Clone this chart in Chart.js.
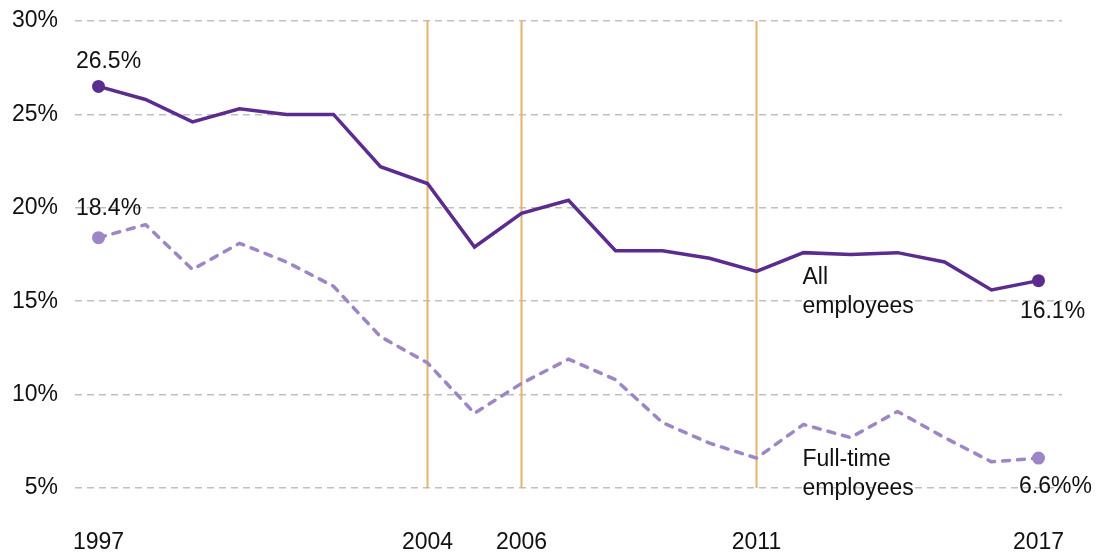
<!DOCTYPE html>
<html>
<head>
<meta charset="utf-8">
<script src="https://cdn.jsdelivr.net/npm/chart.js@4"></script>
<style>
  html, body { margin: 0; padding: 0; background: #ffffff; }
  #wrap { width: 1099px; height: 554px; }
</style>
</head>
<body>
<div id="wrap"><canvas id="c" width="1099" height="554"></canvas></div>
<script>
const years = [1997,1998,1999,2000,2001,2002,2003,2004,2005,2006,2007,2008,2009,2010,2011,2012,2013,2014,2015,2016,2017];
const allEmployees = [26.5,25.8,24.6,25.3,25.0,25.0,22.2,21.3,17.9,19.7,20.4,17.7,17.7,17.3,16.6,17.6,17.5,17.6,17.1,15.6,16.1];
const fullTimeEmployees = [18.4,19.1,16.7,18.1,17.1,15.8,13.1,11.7,9.0,10.6,11.9,10.8,8.5,7.4,6.6,8.4,7.7,9.1,7.7,6.4,6.6];
const xTickYears = [1997,2004,2006,2011,2017];
const yTickValues = [5,10,15,20,25,30];
const markerYears = [2004,2006,2011];
const endLabels = {
  allStart: "26.5%", allEnd: "16.1%",
  ftStart: "18.4%", ftEnd: "6.6%%"
};
const seriesNames = { all: ["All", "employees"], ft: ["Full-time", "employees"] };

const FONT = '"Liberation Sans", Arial, Helvetica, sans-serif';
const DARK = '#5b2c8e';
const LIGHT = '#9d86c6';
const ORANGE = '#e6b36c';

function toPoints(vals) { return years.map((y, i) => ({ x: y, y: vals[i] })); }
const lastIdx = years.length - 1;
const endRadius = (ctx) => (ctx.dataIndex === 0 || ctx.dataIndex === lastIdx) ? 6.5 : 0;

const datasets = [
  {
    label: 'All employees', data: toPoints(allEmployees),
    borderColor: DARK, backgroundColor: DARK, borderWidth: 3.5,
    pointRadius: endRadius, pointBackgroundColor: DARK, pointBorderWidth: 0,
    tension: 0
  },
  {
    label: 'Full-time employees', data: toPoints(fullTimeEmployees),
    borderColor: LIGHT, backgroundColor: LIGHT, borderWidth: 3.5, borderDash: [7, 8],
    borderCapStyle: 'round', borderJoinStyle: 'round',
    pointRadius: endRadius, pointBackgroundColor: LIGHT, pointBorderWidth: 0,
    tension: 0
  }
];
markerYears.forEach(yr => {
  datasets.push({
    label: 'm' + yr,
    data: [{ x: yr, y: yTickValues[0] }, { x: yr, y: yTickValues[yTickValues.length - 1] }],
    borderColor: ORANGE, borderWidth: 2, pointRadius: 0
  });
});

const annotationPlugin = {
  id: 'annot',
  afterDatasetsDraw(chart) {
    const { ctx, scales: { x, y } } = chart;
    ctx.save();
    ctx.font = '23px ' + FONT;
    ctx.fillStyle = '#111111';
    ctx.textBaseline = 'middle';
    ctx.textAlign = 'center';
    const x0 = x.getPixelForValue(years[0]);
    const x1 = x.getPixelForValue(years[lastIdx]);
    ctx.fillText(endLabels.allStart, x0 + 10, y.getPixelForValue(allEmployees[0]) - 25);
    ctx.fillText(endLabels.ftStart, x0 + 10, y.getPixelForValue(fullTimeEmployees[0]) - 29);
    ctx.fillText(endLabels.allEnd, x1 + 14, y.getPixelForValue(allEmployees[lastIdx]) + 31);
    ctx.fillText(endLabels.ftEnd, x1 + 17, y.getPixelForValue(fullTimeEmployees[lastIdx]) + 29);
    ctx.textAlign = 'left';
    const lx = x.getPixelForValue(2012) - 1;
    ctx.fillText(seriesNames.all[0], lx, y.getPixelForValue(16.24));
    ctx.fillText(seriesNames.all[1], lx, y.getPixelForValue(14.69));
    ctx.fillText(seriesNames.ft[0], lx, y.getPixelForValue(6.5));
    ctx.fillText(seriesNames.ft[1], lx, y.getPixelForValue(4.98));
    ctx.restore();
  }
};

new Chart(document.getElementById('c'), {
  type: 'line',
  data: { datasets },
  options: {
    responsive: false,
    animation: false,
    devicePixelRatio: 1,
    layout: { padding: { top: 21, right: 37, left: 0, bottom: 0 } },
    plugins: { legend: { display: false }, tooltip: { enabled: false } },
    scales: {
      x: {
        type: 'linear', min: 1996.5, max: 2017.5,
        grid: { display: false, drawTicks: false },
        border: { display: false },
        afterBuildTicks: (scale) => { scale.ticks = xTickYears.map(v => ({ value: v })); },
        afterFit: (scale) => { scale.height = 66; scale.paddingLeft = 0; scale.paddingRight = 0; },
        ticks: {
          autoSkip: false, maxRotation: 0, padding: 41,
          color: '#111111', font: { family: FONT, size: 23 },
          callback: (v) => String(v)
        }
      },
      y: {
        min: yTickValues[0], max: yTickValues[yTickValues.length - 1],
        afterBuildTicks: (scale) => { scale.ticks = yTickValues.map(v => ({ value: v })); },
        afterFit: (scale) => { scale.width = 75; scale.paddingTop = 0; scale.paddingBottom = 0; },
        grid: { color: '#bfbfbf', lineWidth: 1.5, drawTicks: false },
        border: { display: false, dash: [7, 5] },
        ticks: {
          padding: 17, color: '#111111', font: { family: FONT, size: 23 },
          callback: (v) => v + '%'
        }
      }
    }
  },
  plugins: [annotationPlugin]
});
</script>
</body>
</html>
